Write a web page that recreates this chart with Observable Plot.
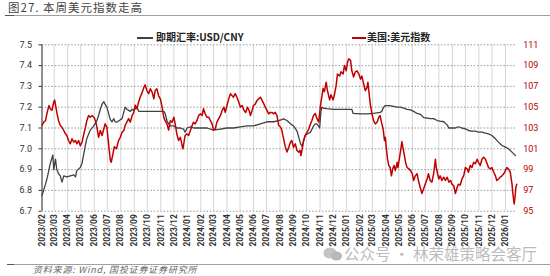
<!DOCTYPE html>
<html><head><meta charset="utf-8">
<script src="https://cdn.jsdelivr.net/npm/d3@7"></script>
<script src="https://cdn.jsdelivr.net/npm/@observablehq/plot@0.6"></script>
<style>
body{margin:0;background:#fff;}
#wrap{position:relative;width:550px;height:276px;overflow:hidden;background:#fff;font-family:"Noto Sans CJK SC","Noto Sans",sans-serif;}
#chart{position:absolute;left:0;top:30px;}
.abs{position:absolute;white-space:nowrap;}
#title{left:8px;top:1px;font-size:11.5px;line-height:13px;color:#444;letter-spacing:1px;}
.hline{position:absolute;height:1px;background:#a0a0a0;}
.leg{font-size:10px;line-height:12px;font-weight:bold;color:#222;}
.legline{position:absolute;height:1.6px;}
#foot{left:33px;top:264px;font-size:9px;line-height:11px;font-style:italic;color:#666;letter-spacing:0.8px;}
#wm{left:344px;top:244px;font-size:15.5px;line-height:18px;color:rgba(175,175,175,0.85);}
</style></head>
<body><div id="wrap">
<div class="abs" id="title"></div>
<div class="hline" style="left:5px;top:15px;width:545px;"></div>
<div class="hline" style="left:5px;top:15px;width:9px;background:#555;"></div>
<div class="legline" id="l1" style="left:137px;top:37px;width:16px;"></div>
<div class="abs leg" id="t1" style="left:156px;top:31px;"></div>
<div class="legline" id="l2" style="left:352px;top:37px;width:14px;"></div>
<div class="abs leg" id="t2" style="left:367px;top:31px;"></div>
<div id="chart"></div>
<svg class="abs" style="left:323px;top:247px;" width="20" height="14"><ellipse cx="7" cy="6" rx="6.5" ry="5.5" fill="#c4c4c4"/><ellipse cx="13.5" cy="9" rx="5.5" ry="4.6" fill="#b8b8b8"/></svg>
<div class="abs" id="wm"></div>
<div class="hline" style="left:7px;top:264px;width:543px;"></div>
<div class="hline" style="left:7px;top:264px;width:7px;background:#555;"></div>
<div class="abs" id="foot"></div>
</div>
<script>
const titleText = "图27. 本周美元指数走高";
const seriesNames = ["即期汇率:USD/CNY", "美国:美元指数"];
const seriesColors = ["#404040", "#c00000"];
const footText = "资料来源: Wind, 国投证券证券研究所";
const watermarkText = "公众号 · 林荣雄策略会客厅";
const leftTicks = [6.7, 6.8, 6.9, 7.0, 7.1, 7.2, 7.3, 7.4, 7.5];
const rightTicks = [95, 97, 99, 101, 103, 105, 107, 109, 111];
const xStart = "2023-02-01", xEnd = "2026-01-28", lastTick = "2026-01-01";

// 即期汇率:USD/CNY (left axis)
const cny = [
["2023-02-01",6.775],["2023-02-09",6.83],["2023-02-13",6.86],["2023-02-20",6.93],["2023-02-26",6.97],["2023-02-28",6.90],
["2023-03-04",6.95],["2023-03-07",6.90],["2023-03-11",6.88],["2023-03-15",6.87],["2023-03-19",6.84],["2023-03-23",6.87],["2023-03-30",6.865],
["2023-04-07",6.87],["2023-04-15",6.875],["2023-04-19",6.865],["2023-04-22",6.895],["2023-04-30",6.91],
["2023-05-04",6.93],["2023-05-08",6.976],["2023-05-12",7.02],["2023-05-15",7.05],["2023-05-23",7.09],["2023-05-31",7.11],
["2023-06-07",7.135],["2023-06-11",7.16],["2023-06-15",7.19],["2023-06-19",7.215],["2023-06-23",7.227],["2023-06-26",7.215],["2023-06-30",7.20],
["2023-07-04",7.17],["2023-07-08",7.14],["2023-07-12",7.13],["2023-07-16",7.145],["2023-07-19",7.13],["2023-07-23",7.128],["2023-07-31",7.14],
["2023-08-04",7.145],["2023-08-08",7.176],["2023-08-11",7.20],["2023-08-15",7.19],["2023-08-19",7.185],["2023-08-23",7.18],["2023-08-27",7.19],["2023-08-31",7.185],
["2023-09-07",7.20],["2023-09-11",7.18],["2023-10-01",7.18],["2023-10-20",7.18],["2023-11-08",7.18],["2023-11-11",7.17],["2023-11-15",7.136],["2023-11-19",7.12],["2023-11-23",7.11],
["2023-12-01",7.11],["2023-12-08",7.10],["2023-12-16",7.10],["2023-12-23",7.095],["2023-12-27",7.08],["2023-12-31",7.10],
["2024-01-08",7.105],["2024-01-16",7.10],["2024-01-31",7.10],["2024-02-15",7.10],["2024-03-01",7.09],["2024-03-17",7.095],["2024-04-01",7.10],["2024-04-16",7.10],
["2024-05-02",7.105],["2024-05-17",7.11],["2024-06-01",7.11],["2024-06-17",7.12],["2024-07-02",7.13],["2024-07-17",7.13],["2024-07-29",7.135],
["2024-08-05",7.14],["2024-08-09",7.144],["2024-08-17",7.136],["2024-08-25",7.12],["2024-09-01",7.11],["2024-09-09",7.085],["2024-09-13",7.056],["2024-09-17",7.025],["2024-09-21",7.01],["2024-09-24",7.035],["2024-09-28",7.065],
["2024-10-02",7.07],["2024-10-10",7.08],["2024-10-17",7.11],["2024-10-21",7.12],["2024-10-25",7.12],["2024-10-31",7.10],
["2024-11-03",7.18],["2024-11-05",7.20],["2024-11-09",7.195],["2024-11-17",7.193],["2024-12-02",7.19],["2024-12-17",7.19],["2025-01-02",7.19],["2025-01-13",7.19],["2025-01-16",7.17],
["2025-02-02",7.168],["2025-02-17",7.168],["2025-03-04",7.17],["2025-03-19",7.175],["2025-03-23",7.18],["2025-03-27",7.20],["2025-03-31",7.208],
["2025-04-11",7.208],["2025-04-19",7.204],["2025-04-27",7.20],["2025-05-04",7.20],["2025-05-12",7.195],["2025-05-20",7.19],["2025-05-28",7.187],
["2025-06-04",7.18],["2025-06-12",7.17],["2025-06-20",7.165],["2025-06-27",7.15],["2025-07-05",7.148],["2025-07-12",7.145],["2025-07-20",7.145],["2025-07-28",7.136],
["2025-08-04",7.133],["2025-08-12",7.13],["2025-08-20",7.115],["2025-08-24",7.10],["2025-08-31",7.10],["2025-09-08",7.10],["2025-09-15",7.106],["2025-09-23",7.10],
["2025-10-01",7.096],["2025-10-08",7.088],["2025-10-16",7.085],["2025-10-24",7.085],["2025-10-31",7.08],["2025-11-08",7.08],["2025-11-16",7.075],["2025-11-23",7.072],
["2025-12-01",7.064],["2025-12-09",7.048],["2025-12-16",7.032],["2025-12-24",7.016],["2026-01-01",7.008],["2026-01-08",7.00],["2026-01-16",6.984],["2026-01-24",6.967]
];

// 美国:美元指数 (right axis)
const dxy = [
["2023-02-01",103.24],["2023-02-05",103.56],["2023-02-09",103.7],["2023-02-13",104.5],["2023-02-17",105.16],["2023-02-20",104.85],["2023-02-24",104.7],["2023-02-28",105.5],
["2023-03-02",105.7],["2023-03-05",105.0],["2023-03-07",104.5],["2023-03-11",103.7],["2023-03-15",103.24],["2023-03-19",103.08],["2023-03-23",102.76],["2023-03-27",102.44],["2023-03-30",102.28],
["2023-04-03",101.8],["2023-04-07",101.48],["2023-04-11",101.96],["2023-04-15",101.64],["2023-04-19",101.8],["2023-04-22",101.48],["2023-04-26",101.8],["2023-04-30",101.3],
["2023-05-04",101.64],["2023-05-08",102.4],["2023-05-12",103.08],["2023-05-15",103.7],["2023-05-19",104.2],["2023-05-23",104.04],["2023-05-27",104.2],["2023-05-31",104.04],
["2023-06-04",103.7],["2023-06-07",103.1],["2023-06-11",102.1],["2023-06-15",102.76],["2023-06-19",102.28],["2023-06-23",102.9],["2023-06-26",103.4],["2023-06-30",103.08],
["2023-07-04",101.5],["2023-07-08",99.9],["2023-07-10",99.7],["2023-07-14",100.5],["2023-07-17",101.2],["2023-07-22",101.0],["2023-07-27",101.8],["2023-07-31",102.1],
["2023-08-04",102.6],["2023-08-08",102.76],["2023-08-11",103.24],["2023-08-15",103.56],["2023-08-19",103.9],["2023-08-23",103.56],["2023-08-27",104.2],["2023-08-31",104.5],
["2023-09-03",105.2],["2023-09-07",104.85],["2023-09-11",105.5],["2023-09-15",106.0],["2023-09-19",106.4],["2023-09-23",106.9],["2023-09-26",107.15],["2023-09-30",106.6],
["2023-10-04",106.3],["2023-10-08",106.77],["2023-10-12",106.45],["2023-10-16",105.8],["2023-10-19",106.6],["2023-10-23",106.77],["2023-10-27",106.1],["2023-10-31",105.8],
["2023-11-04",105.0],["2023-11-08",104.0],["2023-11-11",103.7],["2023-11-15",103.4],["2023-11-19",102.8],["2023-11-23",103.7],["2023-11-27",103.56],
["2023-12-01",104.04],["2023-12-04",103.4],["2023-12-08",102.4],["2023-12-12",101.8],["2023-12-16",102.1],["2023-12-20",101.3],["2023-12-22",101.0],["2023-12-25",101.8],["2023-12-27",102.28],["2023-12-31",102.44],
["2024-01-04",102.28],["2024-01-08",102.76],["2024-01-12",103.24],["2024-01-15",103.56],["2024-01-19",103.4],["2024-01-23",103.7],["2024-01-27",104.2],["2024-01-31",104.36],
["2024-02-04",104.2],["2024-02-07",104.85],["2024-02-11",104.36],["2024-02-15",104.04],["2024-02-19",104.04],["2024-02-23",103.7],["2024-02-27",103.4],
["2024-03-01",102.8],["2024-03-05",102.9],["2024-03-09",103.56],["2024-03-13",103.9],["2024-03-17",104.2],["2024-03-21",104.7],["2024-03-25",105.0],["2024-03-28",104.5],
["2024-04-01",105.16],["2024-04-05",105.8],["2024-04-09",106.3],["2024-04-13",106.1],["2024-04-16",105.96],["2024-04-20",106.3],["2024-04-24",105.96],["2024-04-28",105.5],
["2024-05-02",105.0],["2024-05-06",105.16],["2024-05-10",104.7],["2024-05-14",104.5],["2024-05-18",105.0],["2024-05-22",104.7],["2024-05-25",104.2],["2024-05-29",104.7],
["2024-06-01",105.16],["2024-06-05",105.3],["2024-06-09",105.64],["2024-06-13",105.8],["2024-06-17",105.96],["2024-06-21",105.64],["2024-06-25",105.3],["2024-06-28",105.0],
["2024-07-02",104.7],["2024-07-06",104.36],["2024-07-10",104.5],["2024-07-14",104.5],["2024-07-17",104.36],["2024-07-21",104.5],["2024-07-25",104.2],["2024-07-29",103.24],
["2024-08-02",103.1],["2024-08-05",102.8],["2024-08-09",102.0],["2024-08-13",101.2],["2024-08-17",100.7],["2024-08-21",101.15],["2024-08-25",101.64],["2024-08-28",101.8],
["2024-09-01",101.15],["2024-09-05",101.48],["2024-09-09",100.84],["2024-09-13",100.68],["2024-09-16",100.84],["2024-09-18",100.35],["2024-09-21",101.0],["2024-09-24",101.8],["2024-09-28",102.3],
["2024-10-02",102.6],["2024-10-06",102.9],["2024-10-10",103.4],["2024-10-13",103.7],["2024-10-17",104.2],["2024-10-21",104.4],["2024-10-25",103.9],["2024-10-29",103.56],
["2024-11-02",105.2],["2024-11-05",106.0],["2024-11-08",106.8],["2024-11-11",106.5],["2024-11-15",107.4],["2024-11-18",106.6],["2024-11-23",105.7],["2024-11-26",106.2],
["2024-12-01",105.7],["2024-12-04",106.2],["2024-12-08",107.1],["2024-12-11",108.2],["2024-12-16",108.0],["2024-12-19",108.4],["2024-12-24",108.2],["2024-12-27",109.0],["2024-12-31",108.5],
["2025-01-03",109.3],["2025-01-06",109.65],["2025-01-10",109.5],["2025-01-13",108.5],["2025-01-17",107.9],["2025-01-21",108.4],["2025-01-25",108.5],["2025-01-29",108.2],
["2025-02-02",107.7],["2025-02-05",108.0],["2025-02-09",107.25],["2025-02-13",106.6],["2025-02-17",106.9],["2025-02-19",107.4],["2025-02-21",106.6],["2025-02-24",105.4],["2025-02-28",104.4],
["2025-03-04",103.7],["2025-03-08",103.4],["2025-03-12",103.56],["2025-03-16",104.04],["2025-03-19",104.2],["2025-03-22",103.56],["2025-03-26",102.9],["2025-03-29",101.8],["2025-03-31",102.1],
["2025-04-02",101.15],["2025-04-05",100.0],["2025-04-08",99.39],["2025-04-11",99.2],["2025-04-14",98.4],["2025-04-17",99.07],["2025-04-20",99.4],["2025-04-23",98.9],["2025-04-27",99.7],["2025-04-29",99.2],
["2025-05-02",100.0],["2025-05-05",100.8],["2025-05-08",101.7],["2025-05-11",101.0],["2025-05-14",100.3],["2025-05-17",99.6],["2025-05-20",99.2],["2025-05-24",99.07],["2025-05-28",98.9],
["2025-06-01",98.6],["2025-06-04",97.95],["2025-06-08",98.4],["2025-06-12",98.6],["2025-06-15",97.95],["2025-06-19",97.3],["2025-06-23",96.7],["2025-06-27",97.15],
["2025-07-01",97.63],["2025-07-05",98.1],["2025-07-08",98.6],["2025-07-12",97.95],["2025-07-16",97.8],["2025-07-20",98.6],["2025-07-24",100.0],["2025-07-26",99.2],["2025-07-29",98.6],
["2025-08-01",98.1],["2025-08-04",98.4],["2025-08-08",97.95],["2025-08-12",98.27],["2025-08-16",97.95],["2025-08-20",98.27],["2025-08-24",97.8],["2025-08-28",97.95],["2025-08-31",97.6],
["2025-09-04",97.47],["2025-09-08",96.7],["2025-09-12",97.3],["2025-09-15",97.6],["2025-09-19",97.5],["2025-09-23",98.1],["2025-09-27",98.4],
["2025-10-01",99.2],["2025-10-05",99.07],["2025-10-08",98.75],["2025-10-12",99.4],["2025-10-16",99.2],["2025-10-20",99.7],["2025-10-24",99.56],["2025-10-28",100.0],["2025-10-31",99.7],
["2025-11-04",99.4],["2025-11-08",100.0],["2025-11-12",100.2],["2025-11-16",100.0],["2025-11-20",99.56],["2025-11-23",99.2],["2025-11-27",99.07],
["2025-12-01",99.2],["2025-12-05",98.75],["2025-12-09",98.4],["2025-12-12",97.95],["2025-12-16",98.1],["2025-12-20",98.27],["2025-12-24",98.4],["2025-12-28",98.6],
["2026-01-01",98.9],["2026-01-04",99.2],["2026-01-08",99.07],["2026-01-12",98.75],["2026-01-16",97.63],["2026-01-18",96.7],["2026-01-21",95.7],["2026-01-23",96.35],["2026-01-25",97.3],["2026-01-27",97.6]
];

document.getElementById("title").textContent = titleText;
document.getElementById("t1").textContent = seriesNames[0];
document.getElementById("t2").textContent = seriesNames[1];
document.getElementById("l1").style.background = seriesColors[0];
document.getElementById("l2").style.background = seriesColors[1];
document.getElementById("foot").textContent = footText;
document.getElementById("wm").textContent = watermarkText;

const parse = d3.utcParse("%Y-%m-%d");
const cnyRows = cny.map(([d, v]) => ({date: parse(d), value: v}));
const dxyRows = dxy.map(([d, v]) => ({date: parse(d), value: v}));
// map right-axis (DXY) values onto the left scale: 95 -> 6.7, 111 -> 7.5
const toLeft = v => 7.5 + (v - 111) / 20;
const fromLeft = y => Math.round(111 + (y - 7.5) * 20);
const monthTicks = d3.utcMonth.range(parse(xStart), d3.utcDay.offset(parse(lastTick), 1));

const chart = Plot.plot({
  width: 550,
  height: 225,
  marginLeft: 41.5,
  marginRight: 33.3,
  marginTop: 14.3,
  marginBottom: 44.3,
  style: {fontFamily: "Roboto, 'Liberation Sans', sans-serif", background: "transparent", overflow: "visible"},
  x: {type: "utc", domain: [parse(xStart), parse(xEnd)]},
  y: {domain: [6.7, 7.5]},
  marks: [
    Plot.gridX(monthTicks, {stroke: "#d6d6d6", strokeOpacity: 1, strokeWidth: 1}),
    Plot.gridY(leftTicks, {stroke: "#8c8c8c", strokeOpacity: 1, strokeDasharray: "1.5,1.8", strokeWidth: 0.9}),
    Plot.axisX(monthTicks, {tickFormat: d3.utcFormat("%Y/%m"), tickRotate: -90, tickSize: 0, tickPadding: 3,
      fontSize: 8.5, fontWeight: "bold", fill: "#333", label: null}),
    Plot.axisY(leftTicks, {anchor: "left", tickFormat: d3.format(".1f"), tickSize: 3, tickPadding: 7,
      fontSize: 9, fill: "#333", stroke: "#333", label: null}),
    Plot.axisY(rightTicks.map(toLeft), {anchor: "right", tickFormat: fromLeft, tickSize: 0, tickPadding: 6,
      fontSize: 9, fill: "#b40000", label: null}),
    Plot.ruleX([parse(xStart)], {stroke: "#333", strokeWidth: 1}),
    Plot.lineY(cnyRows, {x: "date", y: "value", stroke: seriesColors[0], strokeWidth: 1.3}),
    Plot.lineY(dxyRows, {x: "date", y: d => toLeft(d.value), stroke: seriesColors[1], strokeWidth: 1.5})
  ]
});
document.getElementById("chart").appendChild(chart);
</script>
</body></html>
